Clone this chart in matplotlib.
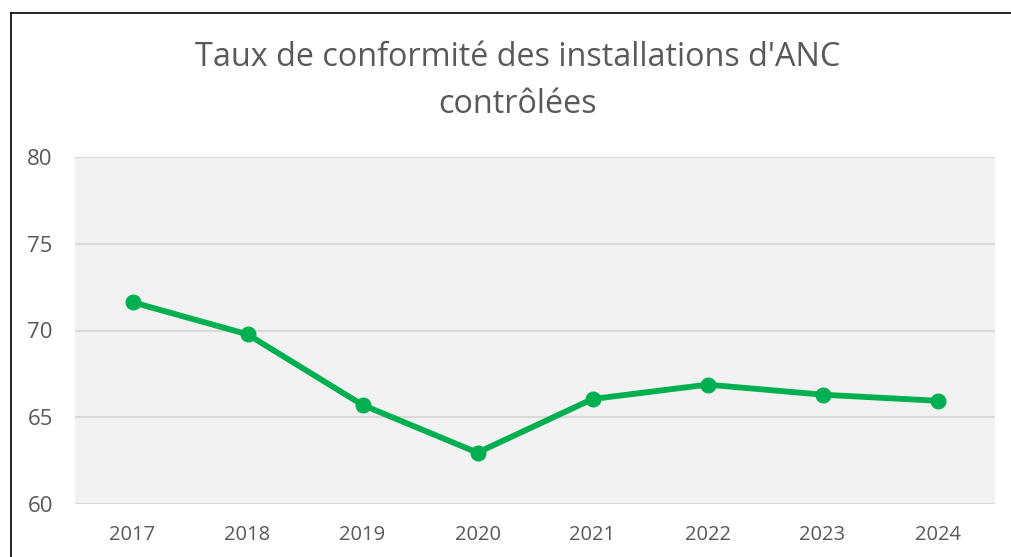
import matplotlib
matplotlib.use("Agg")
import matplotlib.pyplot as plt
from matplotlib.lines import Line2D

years = ["2017", "2018", "2019", "2020", "2021", "2022", "2023", "2024"]
taux = [71.63, 69.78, 65.71, 62.96, 66.05, 66.88, 66.30, 65.95]
yticks = [60, 65, 70, 75, 80]
title = "Taux de conformité des installations d'ANC\ncontrôlées"

plt.rcParams['font.family'] = ['Open Sans', 'DejaVu Sans']

W, H = 1011, 557
fig = plt.figure(figsize=(W / 100, H / 100), dpi=100)
fig.patch.set_facecolor("white")

ax = fig.add_axes([75 / W, (H - 504) / H, (995 - 75) / W, (504 - 157) / H])
ax.set_facecolor("#f2f2f2")

x = list(range(len(years)))
ax.plot(x, taux, color="#00b050", linewidth=4.2, marker="o", markersize=10.5,
        solid_capstyle="round", zorder=3)

ax.set_xlim(-0.5, len(years) - 0.5)
ax.set_ylim(60, 80)
ax.set_yticks(yticks)
ax.set_xticks(x)
ax.set_xticklabels(years)
ax.grid(axis="y", color="#d9d9d9", linewidth=1.5)
ax.set_axisbelow(True)
for s in ax.spines.values():
    s.set_visible(False)
ax.tick_params(axis="both", length=0, colors="#595959")
ax.tick_params(axis="y", pad=16, labelsize=16)
ax.tick_params(axis="x", pad=15, labelsize=14.5)

fig.text(518 / W, 1 - 81 / H, title, ha="center", va="center", fontsize=23.3,
         color="#595959", linespacing=1.55)

# chart border (top and left)
fig.add_artist(Line2D([11 / W, 11 / W], [0, 1 - 13 / H], transform=fig.transFigure,
                      color="black", linewidth=1.2))
fig.add_artist(Line2D([11 / W, 1], [1 - 13 / H, 1 - 13 / H], transform=fig.transFigure,
                      color="black", linewidth=1.2))

fig.savefig("out.png", dpi=100, facecolor="white")
